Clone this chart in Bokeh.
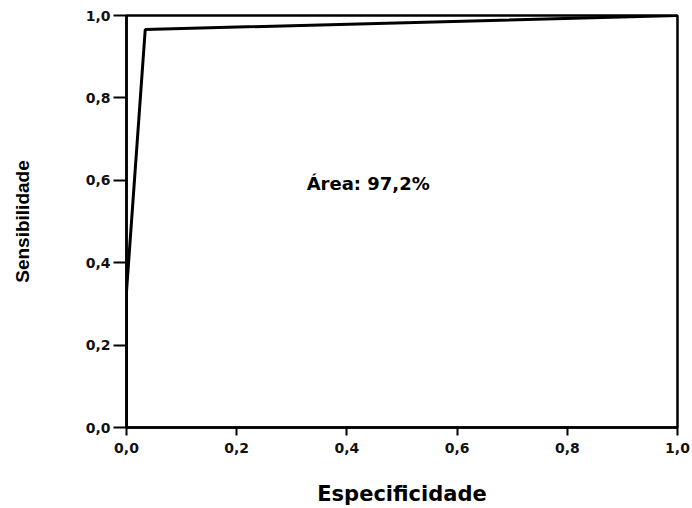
from bokeh.plotting import figure
from bokeh.embed import file_html
from bokeh.resources import INLINE
from bokeh.models import Range1d, FixedTicker, CustomJSTickFormatter, Label

# data
especificidade = [0.0, 0.0, 0.034, 1.0]
sensibilidade = [0.0, 0.33, 0.966, 1.0]
ticks = [0.0, 0.2, 0.4, 0.6, 0.8, 1.0]
area_text = "Área: 97,2%"
x_label = "Especificidade"
y_label = "Sensibilidade"

p = figure(width=692, height=508, output_backend="svg", toolbar_location=None,
           x_range=Range1d(0, 1), y_range=Range1d(0, 1),
           min_border_left=126, min_border_right=15, min_border_top=15, min_border_bottom=81)
p.xgrid.visible = False
p.ygrid.visible = False
p.outline_line_color = "black"
p.outline_line_width = 2.5
p.outline_line_alpha = 1

p.line(especificidade, sensibilidade, line_color="black", line_width=3)

fmt = CustomJSTickFormatter(code="return tick.toFixed(1).replace('.', ',');")
for ax in (p.xaxis[0], p.yaxis[0]):
    ax.ticker = FixedTicker(ticks=ticks)
    ax.formatter = fmt
    ax.axis_line_width = 2.5
    ax.axis_line_color = "black"
    ax.major_tick_line_width = 2
    ax.major_tick_line_color = "black"
    ax.major_tick_in = 0
    ax.minor_tick_line_color = None
    ax.major_label_text_font = "DejaVu Sans"
    ax.major_label_text_font_style = "bold"
    ax.major_label_text_font_size = "14px"
    ax.major_label_text_color = "#111111"
    ax.axis_label_text_font_style = "bold"
    ax.axis_label_text_color = "black"

p.xaxis.major_tick_out = 8
p.yaxis.major_tick_out = 13
p.xaxis.major_label_standoff = 7
p.yaxis.major_label_standoff = 3
p.yaxis.major_label_orientation = "horizontal"

p.xaxis.axis_label = x_label
p.xaxis.axis_label_text_font = "DejaVu Sans"
p.xaxis.axis_label_text_font_size = "21px"
p.xaxis.axis_label_standoff = 26

p.yaxis.axis_label = y_label
p.yaxis.axis_label_text_font = "Liberation Sans"
p.yaxis.axis_label_text_font_size = "19px"
p.yaxis.axis_label_standoff = 50

p.add_layout(Label(x=0.327, y=0.592, text=area_text, text_font="DejaVu Sans",
                   text_font_style="bold", text_font_size="18px", text_color="black",
                   text_baseline="middle", text_align="left"))

open("out.html", "w").write(file_html(p, INLINE))
